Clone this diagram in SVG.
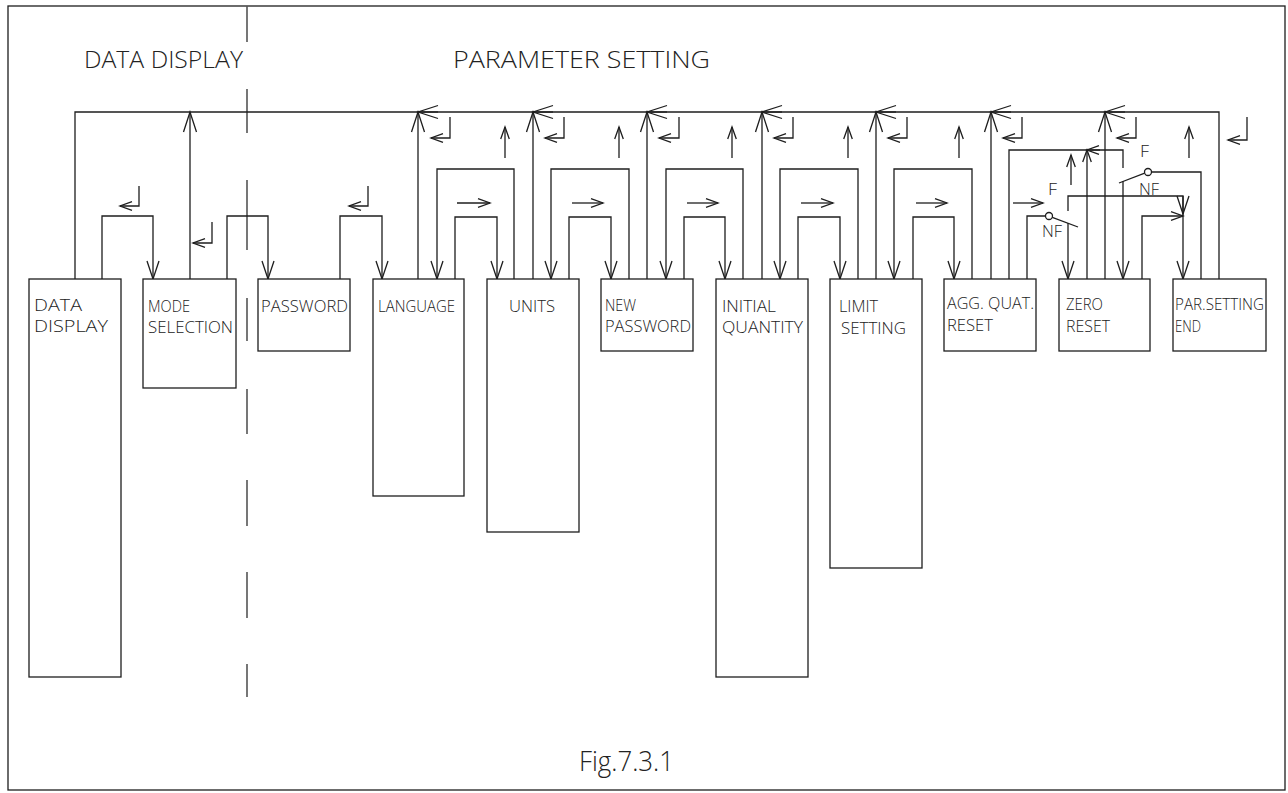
<svg xmlns="http://www.w3.org/2000/svg" width="1288" height="793" viewBox="0 0 1288 793">
<defs>
<style>
.ln{fill:none;stroke:#1e1e1e;stroke-width:1.3}
.box{fill:#fff;stroke:#1e1e1e;stroke-width:1.3}
.dash{stroke:#555;stroke-width:1.6}
text{font-family:"Open Sans","Liberation Sans","DejaVu Sans",sans-serif;font-weight:300;fill:#222}
.lbl{font-size:17px}
.hdr{font-size:24px}
.sw{font-size:16px}
.fig{font-size:27px}
.aB{marker-end:url(#big)}
.aM{marker-end:url(#mid)}
.aS{marker-end:url(#small)}
</style>
<marker id="big" viewBox="-22 -8 24 16" refX="0" refY="0" markerWidth="24" markerHeight="16" markerUnits="userSpaceOnUse" orient="auto"><path d="M-20,-6.5 L0,0 L-20,6.5" fill="none" stroke="#1e1e1e" stroke-width="1.3"/></marker>
<marker id="mid" viewBox="-22 -8 24 16" refX="0" refY="0" markerWidth="24" markerHeight="16" markerUnits="userSpaceOnUse" orient="auto"><path d="M-18,-6 L0,0 L-18,6" fill="none" stroke="#1e1e1e" stroke-width="1.3"/></marker>
<marker id="small" viewBox="-22 -8 24 16" refX="0" refY="0" markerWidth="24" markerHeight="16" markerUnits="userSpaceOnUse" orient="auto"><path d="M-12,-4.3 L0,0 L-12,4.3" fill="none" stroke="#1e1e1e" stroke-width="1.3"/></marker>
</defs>
<rect x="0" y="0" width="1288" height="793" fill="#fff"/>
<rect x="8" y="6" width="1277" height="784" class="ln"/>

<g id="divider">
<path class="dash" d="M247,6 V42 M247,89 V133 M247,180 V250 M247,298 V341 M247,389 V434 M247,480 V526 M247,572 V618 M247,664 V697"/>
</g>

<g id="headers">
<text class="hdr" x="84" y="68" textLength="159" lengthAdjust="spacingAndGlyphs">DATA DISPLAY</text>
<text class="hdr" x="453" y="68" textLength="257" lengthAdjust="spacingAndGlyphs">PARAMETER SETTING</text>
</g>

<g id="connectors">
<path class="ln" d="M75,279 V112 H1219 V279"/>
<path class="ln aB" d="M190,279 V112"/>
<path class="ln aB" d="M418,279 V112"/><path class="ln aB" d="M438,112 H418"/>
<path class="ln aB" d="M533,279 V112"/><path class="ln aB" d="M553,112 H533"/>
<path class="ln aB" d="M647,279 V112"/><path class="ln aB" d="M667,112 H647"/>
<path class="ln aB" d="M762,279 V112"/><path class="ln aB" d="M782,112 H762"/>
<path class="ln aB" d="M876,279 V112"/><path class="ln aB" d="M896,112 H876"/>
<path class="ln aB" d="M991,279 V112"/><path class="ln aB" d="M1011,112 H991"/>
<path class="ln aB" d="M1105,279 V112"/><path class="ln aB" d="M1125,112 H1105"/>

<path class="ln aM" d="M102,279 V216 H153 V279"/>
<path class="ln aM" d="M227,279 V216 H268 V279"/>
<path class="ln aM" d="M340,279 V216 H382 V279"/>
<path class="ln aS" d="M139,186 V206 H120"/>
<path class="ln aS" d="M212,222 V243 H193"/>
<path class="ln aS" d="M368,186 V206 H349"/>

<path class="ln aS" d="M450,117 V138 H431"/>
<path class="ln aS" d="M564,117 V138 H545"/>
<path class="ln aS" d="M679,117 V138 H659"/>
<path class="ln aS" d="M793,117 V138 H774"/>
<path class="ln aS" d="M907,117 V138 H888"/>
<path class="ln aS" d="M1022,117 V138 H1003"/>
<path class="ln aS" d="M1136,117 V138 H1117"/>
<path class="ln aS" d="M1247,117 V140 H1228"/>

<path class="ln aM" d="M514,279 V169 H437 V279"/>
<path class="ln aM" d="M455,279 V217 H497 V279"/>
<path class="ln aS" d="M457,203 H490"/>
<path class="ln aS" d="M505,158 V127"/>

<path class="ln aM" d="M629,279 V169 H551 V279"/>
<path class="ln aM" d="M569,279 V217 H611 V279"/>
<path class="ln aS" d="M572,203 H603"/>
<path class="ln aS" d="M619,158 V127"/>

<path class="ln aM" d="M743,279 V169 H666 V279"/>
<path class="ln aM" d="M684,279 V217 H725 V279"/>
<path class="ln aS" d="M687,203 H718"/>
<path class="ln aS" d="M732,158 V127"/>

<path class="ln aM" d="M858,279 V169 H780 V279"/>
<path class="ln aM" d="M798,279 V217 H840 V279"/>
<path class="ln aS" d="M801,203 H833"/>
<path class="ln aS" d="M848,158 V127"/>

<path class="ln aM" d="M972,279 V169 H894 V279"/>
<path class="ln aM" d="M913,279 V217 H954 V279"/>
<path class="ln aS" d="M916,203 H947"/>
<path class="ln aS" d="M959,158 V127"/>

<path class="ln" d="M1009,279 V150 H1123 V168"/>
<path class="ln aM" d="M1123,181 V279"/>
<path class="ln" d="M1119,183 L1144.7,173.2"/>
<circle cx="1148" cy="172" r="3.5" class="box"/>
<path class="ln" d="M1151.5,172 H1201 V279"/>

<path class="ln" d="M1027,279 V216 H1045.5"/>
<circle cx="1049" cy="216" r="3.5" class="box"/>
<path class="ln" d="M1052.3,217.3 L1078,227"/>
<path class="ln aM" d="M1068,211 V196 H1183 V279"/>
<path class="ln aM" d="M1183,196 V214"/>
<path class="ln aM" d="M1068,223 V279"/>
<path class="ln aS" d="M1142,279 V216 H1183"/>
<path class="ln aS" d="M1087,279 V150"/>
<path class="ln aS" d="M1100,150 H1087"/>
<path class="ln aS" d="M1071,185 V155"/>
<path class="ln aS" d="M1013,203 H1043"/>
<path class="ln aS" d="M1189,158 V127"/>

<text class="sw" x="1140" y="157" textLength="9" lengthAdjust="spacingAndGlyphs">F</text>
<text class="sw" x="1139" y="195" textLength="20" lengthAdjust="spacingAndGlyphs">NF</text>
<text class="sw" x="1048" y="195" textLength="9" lengthAdjust="spacingAndGlyphs">F</text>
<text class="sw" x="1042" y="237" textLength="20" lengthAdjust="spacingAndGlyphs">NF</text>
</g>

<g id="node-data-display">
<rect class="box" x="29" y="279" width="92" height="398"/>
<text class="lbl" x="34" y="311" textLength="48" lengthAdjust="spacingAndGlyphs">DATA</text>
<text class="lbl" x="34" y="332" textLength="74" lengthAdjust="spacingAndGlyphs">DISPLAY</text>
</g>
<g id="node-mode-selection">
<rect class="box" x="143" y="279" width="93" height="109"/>
<text class="lbl" x="148" y="312" textLength="42" lengthAdjust="spacingAndGlyphs">MODE</text>
<text class="lbl" x="148" y="333" textLength="85" lengthAdjust="spacingAndGlyphs">SELECTION</text>
</g>
<g id="node-password">
<rect class="box" x="258" y="279" width="92" height="72"/>
<text class="lbl" x="261" y="312" textLength="87" lengthAdjust="spacingAndGlyphs">PASSWORD</text>
</g>
<g id="node-language">
<rect class="box" x="373" y="279" width="91" height="217"/>
<text class="lbl" x="378" y="312" textLength="77" lengthAdjust="spacingAndGlyphs">LANGUAGE</text>
</g>
<g id="node-units">
<rect class="box" x="487" y="279" width="92" height="253"/>
<text class="lbl" x="509" y="312" textLength="46" lengthAdjust="spacingAndGlyphs">UNITS</text>
</g>
<g id="node-new-password">
<rect class="box" x="601" y="279" width="92" height="72"/>
<text class="lbl" x="605" y="311" textLength="31" lengthAdjust="spacingAndGlyphs">NEW</text>
<text class="lbl" x="605" y="332" textLength="86" lengthAdjust="spacingAndGlyphs">PASSWORD</text>
</g>
<g id="node-initial-quantity">
<rect class="box" x="716" y="279" width="92" height="398"/>
<text class="lbl" x="722" y="312" textLength="54" lengthAdjust="spacingAndGlyphs">INITIAL</text>
<text class="lbl" x="722" y="333" textLength="81" lengthAdjust="spacingAndGlyphs">QUANTITY</text>
</g>
<g id="node-limit-setting">
<rect class="box" x="830" y="279" width="92" height="289"/>
<text class="lbl" x="839" y="312" textLength="39" lengthAdjust="spacingAndGlyphs">LIMIT</text>
<text class="lbl" x="841" y="334" textLength="65" lengthAdjust="spacingAndGlyphs">SETTING</text>
</g>
<g id="node-agg-quat-reset">
<rect class="box" x="944" y="279" width="92" height="72"/>
<text class="lbl" x="947" y="309" textLength="87" lengthAdjust="spacingAndGlyphs">AGG. QUAT.</text>
<text class="lbl" x="947" y="331" textLength="46" lengthAdjust="spacingAndGlyphs">RESET</text>
</g>
<g id="node-zero-reset">
<rect class="box" x="1059" y="279" width="91" height="72"/>
<text class="lbl" x="1066" y="310" textLength="37" lengthAdjust="spacingAndGlyphs">ZERO</text>
<text class="lbl" x="1066" y="332" textLength="44" lengthAdjust="spacingAndGlyphs">RESET</text>
</g>
<g id="node-par-setting-end">
<rect class="box" x="1173" y="279" width="93" height="72"/>
<text class="lbl" x="1175" y="310" textLength="89" lengthAdjust="spacingAndGlyphs">PAR.SETTING</text>
<text class="lbl" x="1175" y="332" textLength="26" lengthAdjust="spacingAndGlyphs">END</text>
</g>

<g id="caption">
<text class="fig" x="579" y="771" textLength="95" lengthAdjust="spacingAndGlyphs">Fig.7.3.1</text>
</g>
</svg>
